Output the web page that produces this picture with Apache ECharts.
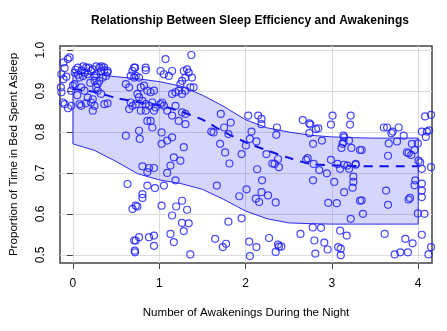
<!DOCTYPE html>
<html>
<head>
<meta charset="utf-8">
<script src="https://cdn.jsdelivr.net/npm/echarts@6/dist/echarts.min.js"></script>
<style>
  html, body { margin: 0; padding: 0; background: #fff; }
  #chart { width: 447px; height: 331px; }
</style>
</head>
<body>
<div id="chart"></div>
<script>
// awakenings (jittered) vs proportion of time asleep
const points = [
  [-0.04,0.982],[-0.06,0.978],[-0.11,0.97],[-0.096,0.956],[-0.134,0.941],[-0.076,0.935],[-0.11,0.929],
  [0.019,0.945],[0.057,0.957],[0.077,0.933],[0.115,0.937],[0.153,0.957],[0.172,0.941],[0.21,0.949],
  [0.23,0.953],[0.249,0.937],[0.268,0.941],[0.307,0.957],[0.326,0.949],[0.364,0.951],[0.402,0.949],
  [0.383,0.937],[0.345,0.933],[0.307,0.925],[0.287,0.917],[0.268,0.909],[0.287,0.901],[0.326,0.893],
  [0.364,0.868],[0.402,0.87],[0.23,0.88],[0.21,0.872],[0.249,0.864],[0.172,0.884],[0.134,0.901],
  [0.096,0.909],[0.019,0.917],[0.0,0.913],[-0.14,0.909],[-0.134,0.897],[-0.019,0.901],[-0.115,0.872],
  [-0.096,0.868],[-0.057,0.858],[-0.019,0.864],[0.077,0.868],[0.096,0.864],[0.23,0.852],[0.613,0.917],
  [0.651,0.909],[0.67,0.937],[0.709,0.933],[0.69,0.949],[0.709,0.957],[0.67,0.872],[0.651,0.856],
  [0.69,0.864],[0.613,0.791],[0.632,0.673],[0.69,0.612],[0.728,0.62],[0.709,0.535],[0.716,0.51],
  [0.03,0.952],[0.06,0.94],[0.1,0.95],[0.12,0.96],[0.14,0.945],[0.18,0.957],[0.27,0.96],[0.33,0.96],
  [0.36,0.958],[0.25,0.925],[0.2,0.92],[0.05,0.89],[0.15,0.87],[0.4,0.945],
  [1.073,0.978],[1.372,0.988],[0.843,0.957],[0.843,0.951],[0.72,0.957],
  [1.015,0.949],[1.054,0.941],[1.111,0.937],[1.149,0.949],[1.284,0.949],[1.322,0.953],[1.341,0.945],
  [1.303,0.933],[1.379,0.933],[1.264,0.925],[1.245,0.917],[1.36,0.909],[1.398,0.909],[1.226,0.901],
  [1.303,0.901],[1.264,0.893],[1.188,0.897],[1.149,0.893],
  [0.728,0.937],[0.766,0.933],[0.786,0.909],[0.824,0.913],[0.862,0.901],[0.9,0.897],[0.939,0.901],
  [0.747,0.893],[0.766,0.885],[0.805,0.876],[0.843,0.868],[0.881,0.864],[0.92,0.872],[0.958,0.86],
  [0.728,0.868],[0.786,0.852],[0.843,0.852],[0.939,0.852],[1.015,0.868],[1.054,0.864],[1.092,0.852],
  [1.034,0.872],[1.149,0.84],[1.188,0.864],[1.264,0.848],[1.303,0.844],[1.226,0.827],[1.303,0.819],
  [0.862,0.827],[0.9,0.827],[0.92,0.811],[0.766,0.803],[0.774,0.783],[1.027,0.799],[1.092,0.779],
  [1.149,0.787],[1.027,0.771],[1.284,0.763],[1.169,0.738],[1.245,0.73],[1.13,0.718],[1.092,0.7],
  [0.805,0.716],[0.881,0.712],[0.939,0.712],[0.862,0.702],[1.188,0.682],[0.862,0.669],[0.95,0.663],
  [1.054,0.669],[0.805,0.648],[0.805,0.639],[0.747,0.618],[1.027,0.62],[1.196,0.618],[1.322,0.61],
  [1.264,0.632],[1.149,0.596],[1.264,0.578],[1.341,0.577],[1.284,0.558],[0.728,0.535],[0.766,0.543],
  [0.881,0.543],[0.939,0.547],[0.939,0.522],[1.13,0.551],[1.169,0.531],[0.72,0.506],[1.36,0.501],
  [1.603,0.801],
  [1.713,0.844],[1.751,0.811],[1.828,0.823],[1.629,0.799],[1.801,0.795],[1.705,0.771],[1.763,0.75],
  [1.813,0.723],[2.031,0.84],[2.146,0.84],[2.184,0.832],[2.184,0.819],[2.364,0.811],[2.356,0.793],
  [2.069,0.801],[2.05,0.783],[2.126,0.777],[2.004,0.767],[1.954,0.746],[2.241,0.746],[2.31,0.723],
  [2.337,0.722],[2.376,0.734],[2.387,0.714],[2.134,0.709],[2.191,0.682],[1.667,0.669],[2.011,0.66],
  [1.927,0.643],[2.119,0.637],[2.157,0.629],[2.184,0.653],[2.26,0.645],[2.349,0.628],[1.954,0.589],
  [1.801,0.581],[1.648,0.539],[1.774,0.527],[1.736,0.519],[2.042,0.532],[2.126,0.519],[2.05,0.497],
  [2.272,0.541],[2.376,0.525],[2.387,0.52],[2.349,0.507],
  [2.663,0.829],[2.739,0.821],[2.751,0.818],[2.816,0.807],[2.843,0.809],[2.739,0.797],[2.885,0.779],
  [2.782,0.771],[3.008,0.84],[3.218,0.84],[2.989,0.818],[3.211,0.818],[3.134,0.791],[3.142,0.787],
  [3.123,0.771],[3.134,0.775],[3.199,0.779],[3.111,0.761],[3.226,0.761],[3.326,0.756],[2.72,0.736],
  [2.701,0.732],[2.789,0.722],[2.854,0.707],[2.942,0.699],[2.989,0.732],[3.065,0.722],[3.096,0.71],
  [3.142,0.72],[3.18,0.718],[3.199,0.71],[3.276,0.722],[3.027,0.678],[3.249,0.691],[3.249,0.678],
  [3.24,0.664],[3.142,0.653],[2.782,0.682],[2.958,0.627],[3.057,0.626],[3.218,0.588],[3.326,0.632],
  [2.636,0.551],[2.778,0.567],[2.874,0.566],[2.797,0.535],[2.912,0.53],[2.808,0.503],[2.951,0.513],
  [3.096,0.559],[3.172,0.547],[3.073,0.519],[3.103,0.515],[3.103,0.499],[2.414,0.52],
  [3.602,0.811],[3.64,0.811],[3.705,0.801],[3.69,0.797],[3.774,0.811],[3.832,0.791],[3.755,0.777],
  [3.659,0.772],[3.345,0.756],[3.651,0.742],[3.87,0.75],[3.889,0.748],[3.92,0.744],[3.958,0.756],
  [3.996,0.772],[3.927,0.771],[4.004,0.73],[4.023,0.726],[4.042,0.71],[3.276,0.72],[3.966,0.682],
  [3.958,0.67],[4.042,0.674],[4.042,0.657],[4.042,0.641],[3.628,0.657],[3.905,0.639],[3.889,0.635],
  [3.345,0.633],[3.651,0.622],[3.36,0.6],[3.996,0.601],[4.073,0.6],[4.08,0.838],[4.042,0.801],
  [4.1,0.801],[4.088,0.788],[4.126,0.804],[4.149,0.842],[3.612,0.551],[3.851,0.539],[3.935,0.528],
  [4.042,0.549],[3.728,0.501],[3.793,0.506],[3.881,0.506],[4.119,0.501],[4.149,0.714],[4.149,0.519]
];

// smoothed fit and band
const curveX = [0, 0.25, 0.5, 0.75, 1, 1.25, 1.5, 1.75, 2, 2.25, 2.5, 2.75, 3, 3.25, 3.5, 3.75, 4];
const upperY = [0.945, 0.941, 0.935, 0.93, 0.923, 0.912, 0.89, 0.862, 0.83, 0.81, 0.8, 0.792, 0.788, 0.786, 0.785, 0.785, 0.785];
const lowerY = [0.771, 0.755, 0.728, 0.698, 0.683, 0.674, 0.66, 0.635, 0.607, 0.588, 0.578, 0.576, 0.575, 0.575, 0.575, 0.575, 0.575];
const trendY = [0.905, 0.898, 0.883, 0.873, 0.865, 0.85, 0.83, 0.8, 0.775, 0.755, 0.737, 0.722, 0.719, 0.717, 0.716, 0.716, 0.716];

const xTicks = [0, 1, 2, 3, 4];
const yTicks = [0.5, 0.6, 0.7, 0.8, 0.9, 1.0];

const chart = echarts.init(document.getElementById('chart'));
const font = 'Liberation Sans, Arial, sans-serif';

const option = {
  backgroundColor: '#fff',
  animation: false,
  title: {
    text: 'Relationship Between Sleep Efficiency and Awakenings',
    left: 245,
    textAlign: 'center',
    top: 10,
    textStyle: { fontSize: 12, fontWeight: 'bold', color: '#000', fontFamily: font }
  },
  grid: {
    left: 57, right: 15, top: 46, bottom: 68,
    show: true, borderColor: '#444', borderWidth: 1.5, backgroundColor: '#fff'
  },
  xAxis: {
    type: 'value', min: -0.15, max: 4.16,
    name: 'Number of Awakenings During the Night',
    nameLocation: 'middle', nameGap: 44,
    nameTextStyle: { fontSize: 11.6, color: '#000', fontFamily: font },
    axisLine: { show: false },
    axisTick: { show: true, inside: false, length: 6, customValues: xTicks, lineStyle: { color: '#444' } },
    axisLabel: { customValues: xTicks, fontSize: 12, color: '#000', margin: 15, fontFamily: font },
    splitLine: { show: true, lineStyle: { color: '#dcdcdc', width: 1 } }
  },
  yAxis: {
    type: 'value', min: 0.48, max: 1.01,
    name: 'Proportion of Time in Bed Spent Asleep',
    nameLocation: 'middle', nameGap: 40,
    nameTextStyle: { fontSize: 11.6, color: '#000', fontFamily: font },
    axisLine: { show: false },
    axisTick: { show: true, inside: false, length: 6, customValues: yTicks, lineStyle: { color: '#444' } },
    axisLabel: {
      customValues: yTicks, fontSize: 12, color: '#000', margin: 13, rotate: 90, fontFamily: font,
      formatter: v => v.toFixed(1)
    },
    splitLine: { show: true, lineStyle: { color: '#dcdcdc', width: 1 } }
  },
  series: [
    {
      type: 'custom',
      z: 1,
      data: [0],
      renderItem: function(params, api) {
        const pts = [];
        curveX.forEach((x, i) => pts.push(api.coord([x, upperY[i]])));
        for (let i = curveX.length - 1; i >= 0; i--) pts.push(api.coord([curveX[i], lowerY[i]]));
        return {
          type: 'polygon',
          shape: { points: pts },
          style: { fill: 'rgba(30,30,240,0.18)', stroke: '#2a2af0', lineWidth: 1 }
        };
      }
    },
    {
      type: 'line',
      z: 2,
      data: curveX.map((x, i) => [x, trendY[i]]),
      showSymbol: false,
      smooth: 0.3,
      lineStyle: { color: '#1010e0', width: 2, type: [9, 7] }
    },
    {
      type: 'scatter',
      z: 3,
      data: points,
      symbol: 'circle',
      symbolSize: 7,
      itemStyle: { color: 'rgba(0,0,0,0)', borderColor: '#1a1aff', borderWidth: 1.2 }
    }
  ]
};

chart.setOption(option);
</script>
</body>
</html>
